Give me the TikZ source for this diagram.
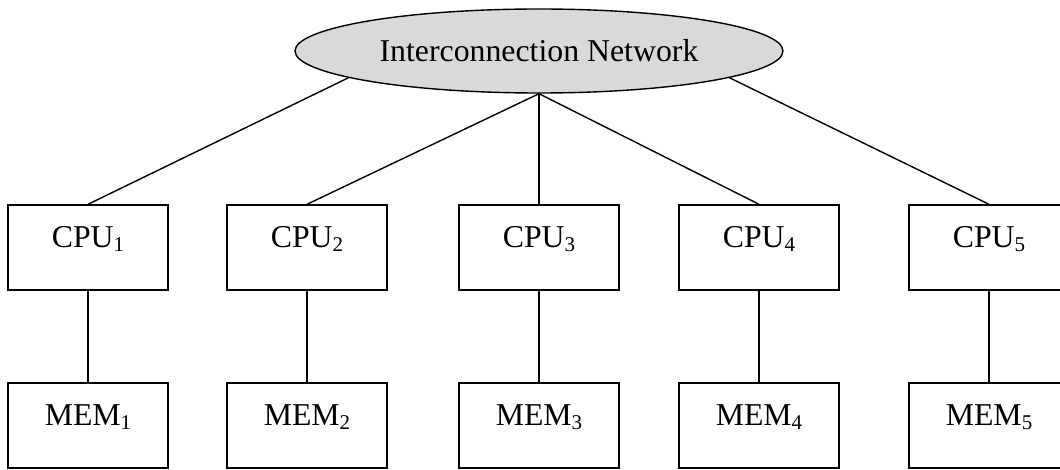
\documentclass[tikz,border=0pt]{standalone}
\usepackage{fontspec}
\setmainfont{Liberation Serif}
\usetikzlibrary{shapes.geometric}
\definecolor{netfill}{RGB}{217,217,217}
\newcommand\subn[1]{\raisebox{-2pt}{\fontsize{10.5}{12}\selectfont #1}}
\begin{document}
\begin{tikzpicture}[x=0.5pt,y=-0.5pt,
  unit/.style={draw, line width=0.7pt, minimum width=80pt, minimum height=42.5pt,
    inner sep=0pt, text height=8pt, text depth=8pt, font=\fontsize{15.9}{19}\selectfont},
  netw/.style={ellipse, draw, fill=netfill, line width=0.7pt, minimum width=244pt,
    minimum height=42pt, inner sep=0pt, font=\fontsize{15.9}{19}\selectfont},
  link/.style={line width=0.7pt}]
\useasboundingbox (0,0) rectangle (1060,470);
\node[netw] (net) at (539,51) {Interconnection Network};
\foreach \i/\x in {1/88,2/307,3/539,4/759,5/989}{
  \node[unit] (c\i) at (\x,247.5) {CPU\subn{\i}};
  \node[unit] (m\i) at (\x,425.5) {MEM\subn{\i}};
  \draw[link] (c\i.south) -- (m\i.north);
}
\draw[link] (net.188) -- (c1.north);
\draw[link] (net.south) -- (c2.north);
\draw[link] (net.south) -- (c3.north);
\draw[link] (net.south) -- (c4.north);
\draw[link] (net.352) -- (c5.north);
\end{tikzpicture}
\end{document}
